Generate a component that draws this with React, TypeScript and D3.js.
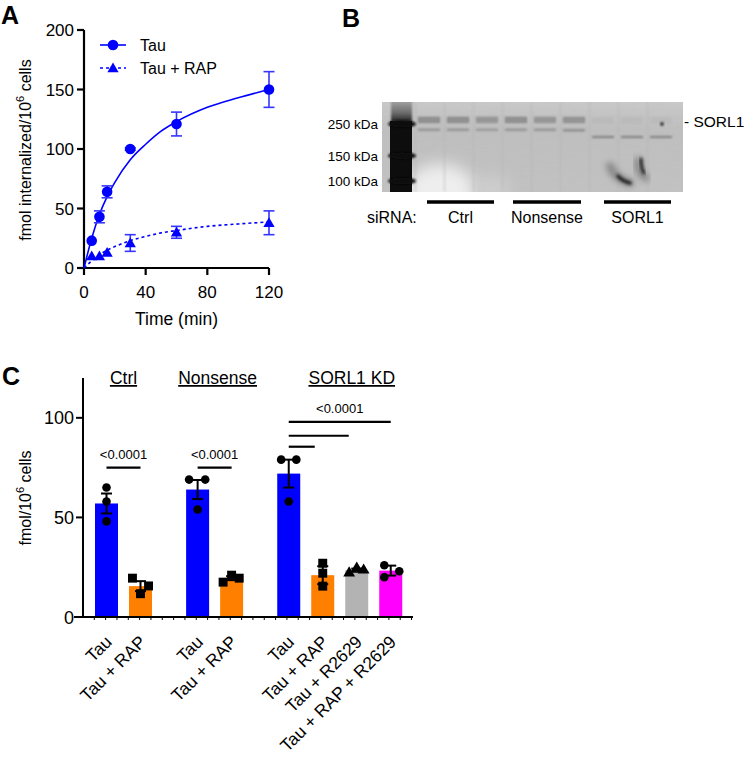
import React from 'react';
import * as d3 from 'd3';

// ---------- Panel A data ----------
const timePoints = [5, 10, 15, 30, 60, 120];
const tauMean = [23, 43, 64, 100, 121, 150];
const tauErr = [0, 5, 5, 1, 10, 15];
const rapMean = [10, 10, 13, 21, 30, 38];
const rapErr = [0, 0, 0, 7, 5, 10];
const fitTimes = [0, 5, 10, 15, 20, 30, 40, 50, 60, 80, 100, 120];
const tauFit = [0, 25, 45, 60, 72, 91, 104, 115, 123, 135, 143, 150];
const rapFit = [0, 6, 11, 15, 18, 23, 26.5, 29.5, 31.5, 35, 37, 38.7];
const xTicksA = [0, 40, 80, 120];
const yTicksA = [0, 50, 100, 150, 200];
const legendA = ['Tau', 'Tau + RAP'];

// ---------- Panel B data ----------
const laneGroups = ['Ctrl', 'Ctrl', 'Ctrl', 'Nonsense', 'Nonsense', 'Nonsense', 'SORL1', 'SORL1', 'SORL1'];
const sorl1Intensity = [0.6, 0.6, 0.5, 0.6, 0.5, 0.55, 0.07, 0.07, 0.06];
const lowerIntensity = [0.45, 0.45, 0.4, 0.45, 0.45, 0.5, 0.55, 0.55, 0.55];
const lowerKDa = [228, 228, 228, 228, 228, 226, 203, 203, 203];
const sorl1KDa = 267;
const ladderKDa = [250, 150, 100];
const blotGroups = ['Ctrl', 'Nonsense', 'SORL1'];

// ---------- Panel C data ----------
const groupNames = ['Ctrl', 'Nonsense', 'SORL1 KD'];
const barLabels = ['Tau', 'Tau + RAP', 'Tau', 'Tau + RAP', 'Tau', 'Tau + RAP', 'Tau + R2629', 'Tau + RAP + R2629'];
const barGroup = [0, 0, 1, 1, 2, 2, 2, 2];
const barMeans = [57, 15.5, 64, 19.5, 72, 21, 23.5, 23.3];
const barSem = [5, 2.5, 4.8, 1, 7, 4.5, 0.8, 2.5];
const barColors = ['#0000ff', '#ff8000', '#0000ff', '#ff8000', '#0000ff', '#ff8000', '#b3b3b3', '#ff00ff'];
const barShapes = ['circle', 'square', 'circle', 'square', 'circle', 'square', 'triangle', 'circle'];
const replicates = [
  [65, 58, 48],
  [19.5, 15.6, 11.7],
  [69, 69, 54],
  [17.5, 21, 19.5],
  [79, 79, 58],
  [27, 22, 15.5],
  [22.6, 25, 24],
  [26, 23, 20],
];
const dotSpread = [
  [0, 0, 0],
  [-0.35, 0.35, 0],
  [-0.37, 0.33, 0],
  [-0.37, 0, 0.33],
  [-0.33, 0.33, 0],
  [0, 0, 0],
  [-0.33, 0, 0.3],
  [-0.28, 0.37, -0.28],
];
const yTicksC = [0, 50, 100];
const sigLabel = '<0.0001';

const FONT = "'Liberation Sans', Arial, Helvetica, sans-serif";
const BLUE = '#0000ff';
const EBLUE = '#3535ff';

function PanelA() {
  const x = d3.scaleLinear().domain([0, 120]).range([84, 269]);
  const y = d3.scaleLinear().domain([0, 200]).range([268, 30]);
  const line = d3
    .line<number>()
    .x((_, i) => x(fitTimes[i]))
    .curve(d3.curveMonotoneX);
  const tauPath = line.y((v) => y(v))(tauFit) || '';
  const rapPath = line.y((v) => y(v))(rapFit) || '';
  const tri = d3.symbol().type(d3.symbolTriangle).size(55)() || '';
  return (
    <g fontFamily={FONT}>
      <text x={1} y={24} fontSize={25} fontWeight="bold">A</text>
      <line x1={x(0)} x2={x(120)} y1={y(0)} y2={y(0)} stroke="#000" strokeWidth={2.2} />
      <line x1={x(0)} x2={x(0)} y1={y(0) + 1} y2={y(200)} stroke="#000" strokeWidth={2.2} />
      {yTicksA.map((t) => (
        <g key={'ya' + t}>
          <line x1={x(0) - 7} x2={x(0)} y1={y(t)} y2={y(t)} stroke="#000" strokeWidth={2.2} />
          <text x={x(0) - 10} y={y(t) + 6} fontSize={17} textAnchor="end">{t}</text>
        </g>
      ))}
      {xTicksA.map((t) => (
        <g key={'xa' + t}>
          <line x1={x(t)} x2={x(t)} y1={y(0)} y2={y(0) + 7} stroke="#000" strokeWidth={2.2} />
          <text x={x(t)} y={298} fontSize={17} textAnchor="middle">{t}</text>
        </g>
      ))}
      <text x={(x(0) + x(120)) / 2} y={325} fontSize={17.5} textAnchor="middle">Time (min)</text>
      <text transform="translate(31,150) rotate(-90)" fontSize={16} textAnchor="middle">
        fmol internalized/10<tspan dy={-7} fontSize={11}>6</tspan><tspan dy={7}> cells</tspan>
      </text>
      <path d={tauPath} fill="none" stroke={BLUE} strokeWidth={1.6} />
      <path d={rapPath} fill="none" stroke={BLUE} strokeWidth={1.6} strokeDasharray="3,3" />
      {timePoints.map((t, i) => (
        <g key={'eb' + i} stroke={EBLUE} strokeWidth={1.6}>
          {tauErr[i] > 0 && (
            <>
              <line x1={x(t)} x2={x(t)} y1={y(tauMean[i] - tauErr[i])} y2={y(tauMean[i] + tauErr[i])} />
              <line x1={x(t) - 5.5} x2={x(t) + 5.5} y1={y(tauMean[i] - tauErr[i])} y2={y(tauMean[i] - tauErr[i])} />
              <line x1={x(t) - 5.5} x2={x(t) + 5.5} y1={y(tauMean[i] + tauErr[i])} y2={y(tauMean[i] + tauErr[i])} />
            </>
          )}
          {rapErr[i] > 0 && (
            <>
              <line x1={x(t)} x2={x(t)} y1={y(rapMean[i] - rapErr[i])} y2={y(rapMean[i] + rapErr[i])} />
              <line x1={x(t) - 5.5} x2={x(t) + 5.5} y1={y(rapMean[i] - rapErr[i])} y2={y(rapMean[i] - rapErr[i])} />
              <line x1={x(t) - 5.5} x2={x(t) + 5.5} y1={y(rapMean[i] + rapErr[i])} y2={y(rapMean[i] + rapErr[i])} />
            </>
          )}
        </g>
      ))}
      {timePoints.map((t, i) => (
        <circle key={'tc' + i} cx={x(t)} cy={y(tauMean[i])} r={5.3} fill={BLUE} />
      ))}
      {timePoints.map((t, i) => (
        <path key={'rt' + i} d={tri} transform={`translate(${x(t)},${y(rapMean[i]) + 1})`} fill={BLUE} />
      ))}
      <line x1={100} x2={126} y1={45} y2={45} stroke={BLUE} strokeWidth={1.6} />
      <circle cx={113} cy={45} r={5.3} fill={BLUE} />
      <text x={140} y={51} fontSize={16}>{legendA[0]}</text>
      <line x1={100} x2={126} y1={68} y2={68} stroke={BLUE} strokeWidth={1.6} strokeDasharray="3,3" />
      <path d={tri} transform="translate(113,69)" fill={BLUE} />
      <text x={140} y={74} fontSize={16}>{legendA[1]}</text>
    </g>
  );
}

function PanelB() {
  const laneX = d3.scaleLinear().domain([0, 1]).range([418, 447]);
  const laneW = 22;
  const ky = d3.scaleLog().domain([100, 250]).range([181, 124]);
  const left = 382, right = 683, top = 102, bottom = 192;
  const groupLines: Record<string, [number, number]> = {
    Ctrl: [427, 494],
    Nonsense: [513, 581],
    SORL1: [604, 671],
  };
  return (
    <g fontFamily={FONT}>
      <defs>
        <filter id="blur1" x="-20%" y="-100%" width="140%" height="300%">
          <feGaussianBlur stdDeviation="0.8" />
        </filter>
        <filter id="blur2" x="-50%" y="-50%" width="200%" height="200%">
          <feGaussianBlur stdDeviation="1.6" />
        </filter>
        <filter id="blur3" x="-50%" y="-50%" width="200%" height="200%">
          <feGaussianBlur stdDeviation="3" />
        </filter>
        <filter id="blur8" x="-50%" y="-50%" width="200%" height="200%">
          <feGaussianBlur stdDeviation="8" />
        </filter>
        <filter id="noise" x="0" y="0" width="100%" height="100%">
          <feTurbulence type="fractalNoise" baseFrequency="0.06 0.5" numOctaves={2} seed={3} />
          <feColorMatrix type="matrix" values="0 0 0 0 0.45  0 0 0 0 0.45  0 0 0 0 0.45  0.6 0 0 0 -0.2" />
        </filter>
        <linearGradient id="blotBg" x1="0" y1="0" x2="0" y2="1">
          <stop offset="0" stopColor="#c9c9c9" />
          <stop offset="0.3" stopColor="#bfbfbf" />
          <stop offset="1" stopColor="#c2c2c2" />
        </linearGradient>
        <linearGradient id="ladderTop" x1="0" y1="0" x2="0" y2="1">
          <stop offset="0" stopColor="#a8a8a8" />
          <stop offset="0.6" stopColor="#6a6a6a" />
          <stop offset="1" stopColor="#202020" />
        </linearGradient>
        <clipPath id="blotClip">
          <rect x={left} y={top} width={right - left} height={bottom - top} />
        </clipPath>
      </defs>
      <text x={342} y={27} fontSize={25} fontWeight="bold">B</text>
      <g clipPath="url(#blotClip)">
        <rect x={left} y={top} width={right - left} height={bottom - top} fill="url(#blotBg)" />
        <rect x={left} y={top} width={right - left} height={bottom - top} filter="url(#noise)" opacity={0.35} />
        <ellipse cx={440} cy={192} rx={36} ry={28} fill="#eeeeee" filter="url(#blur8)" />
        <ellipse cx={493} cy={190} rx={16} ry={14} fill="#cfcfcf" filter="url(#blur8)" />
        {laneGroups.map((_, i) => (
          <rect key={'ls' + i} x={laneX(i) - 4} y={top} width={3} height={bottom - top} fill="#b3b3b3" opacity={0.25} filter="url(#blur1)" />
        ))}
        <rect x={391} y={top - 2} width={21} height={22} fill="url(#ladderTop)" filter="url(#blur1)" />
        <rect x={390} y={top + 19} width={22} height={bottom - top} fill="#0d0d0d" />
        {ladderKDa.map((k) => (
          <ellipse key={'ld' + k} cx={402} cy={ky(k)} rx={14} ry={3.5} fill="#0a0a0a" filter="url(#blur1)" />
        ))}
        {laneGroups.map((_, i) => (
          <g key={'bd' + i} filter="url(#blur1)">
            <rect x={laneX(i)} y={ky(sorl1KDa) - 3} width={laneW} height={6} fill="#555" opacity={sorl1Intensity[i]} />
            <rect x={laneX(i) + 1} y={ky(sorl1KDa) - 1.5} width={laneW - 2} height={3} fill="#c4c4c4" opacity={sorl1Intensity[i] * 0.5} />
            <rect x={laneX(i)} y={ky(lowerKDa[i]) - 1} width={laneW} height={2} fill="#4a4a4a" opacity={lowerIntensity[i]} />
          </g>
        ))}
        <circle cx={662} cy={124} r={1.8} fill="#222" filter="url(#blur1)" />
        <path d="M610,166 Q614,178 630,183" stroke="#858585" strokeWidth={8} fill="none" filter="url(#blur3)" strokeLinecap="round" />
        <path d="M618,176 Q622,181 630,183" stroke="#1a1a1a" strokeWidth={3.5} fill="none" filter="url(#blur2)" strokeLinecap="round" />
        <path d="M638,160 Q636,172 646,178" stroke="#858585" strokeWidth={7} fill="none" filter="url(#blur3)" strokeLinecap="round" />
        <path d="M641,159 Q641,168 644,173" stroke="#1a1a1a" strokeWidth={3} fill="none" filter="url(#blur2)" strokeLinecap="round" />
      </g>
      {ladderKDa.map((k) => (
        <text key={'kt' + k} x={378} y={ky(k) + 5} fontSize={13.5} textAnchor="end">{k} kDa</text>
      ))}
      <text x={684} y={127} fontSize={15.5}>- SORL1</text>
      {blotGroups.map((g) => (
        <g key={'bg' + g}>
          <line x1={groupLines[g][0]} x2={groupLines[g][1]} y1={202} y2={202} stroke="#000" strokeWidth={3.5} />
          <text x={(groupLines[g][0] + groupLines[g][1]) / 2} y={223} fontSize={16} textAnchor="middle">{g}</text>
        </g>
      ))}
      <text x={367} y={223} fontSize={16}>siRNA:</text>
    </g>
  );
}

function PanelC() {
  const y = d3.scaleLinear().domain([0, 120]).range([617, 378]);
  const slot = d3.scaleLinear().domain([0, 1]).range([95, 129]);
  const bw = 23;
  const barX = barMeans.map((_, i) => slot(i + barGroup[i] * 0.68));
  const cx = (i: number) => barX[i] + bw / 2;
  const sq = d3.symbol().type(d3.symbolSquare).size(80)() || '';
  const tri = d3.symbol().type(d3.symbolTriangle).size(60)() || '';
  const axisLeft = 83, axisRight = 413;
  const minorTicks = d3.range(axisLeft + 11.3, axisRight, 11.33);
  const groupCenterOffset = [0, 3, 12];
  const groupCenters = groupNames.map((_, g) => {
    const idx = barGroup.map((gg, i) => (gg === g ? i : -1)).filter((i) => i >= 0);
    return (cx(idx[0]) + cx(idx[idx.length - 1])) / 2 + groupCenterOffset[g];
  });
  const sigPairs: [number, number, number, number][] = [
    [0, 1, 75, 0],
    [2, 3, 75, 0],
    [4, 7, 98, 0],
    [4, 6, 91, 8],
    [4, 5, 85.5, 8],
  ];
  return (
    <g fontFamily={FONT}>
      <text x={2} y={385} fontSize={25} fontWeight="bold">C</text>
      {barMeans.map((m, i) => (
        <rect key={'bar' + i} x={barX[i]} y={y(m)} width={bw} height={y(0) - y(m)} fill={barColors[i]} />
      ))}
      {barMeans.map((m, i) => (
        <g key={'ce' + i} stroke="#000" strokeWidth={2}>
          <line x1={cx(i)} x2={cx(i)} y1={y(m - barSem[i])} y2={y(m + barSem[i])} />
          <line x1={cx(i) - 5.5} x2={cx(i) + 5.5} y1={y(m + barSem[i])} y2={y(m + barSem[i])} />
          <line x1={cx(i) - 5.5} x2={cx(i) + 5.5} y1={y(m - barSem[i])} y2={y(m - barSem[i])} />
        </g>
      ))}
      {replicates.map((vals, i) =>
        vals.map((v, j) => {
          const px = cx(i) + dotSpread[i][j] * bw;
          const py = y(v);
          if (barShapes[i] === 'circle') return <circle key={`r${i}-${j}`} cx={px} cy={py} r={4.3} fill="#000" />;
          if (barShapes[i] === 'square') return <path key={`r${i}-${j}`} d={sq} transform={`translate(${px},${py})`} fill="#000" />;
          return <path key={`r${i}-${j}`} d={tri} transform={`translate(${px},${py + 1})`} fill="#000" />;
        })
      )}
      <line x1={axisLeft} x2={axisLeft} y1={y(0)} y2={y(120)} stroke="#000" strokeWidth={2} />
      <line x1={axisLeft - 9} x2={axisRight} y1={y(0)} y2={y(0)} stroke="#000" strokeWidth={2} />
      {minorTicks.map((t, i) => (
        <line key={'mt' + i} x1={t} x2={t} y1={y(0)} y2={y(0) + 3} stroke="#000" strokeWidth={1} />
      ))}
      {yTicksC.map((t) => (
        <g key={'yc' + t}>
          <line x1={axisLeft - 7} x2={axisLeft} y1={y(t)} y2={y(t)} stroke="#000" strokeWidth={2} />
          <text x={axisLeft - 9} y={y(t) + 6.5} fontSize={18} textAnchor="end">{t}</text>
        </g>
      ))}
      <text transform="translate(31,498) rotate(-90)" fontSize={16} textAnchor="middle">
        fmol/10<tspan dy={-7} fontSize={11}>6</tspan><tspan dy={7}> cells</tspan>
      </text>
      {groupNames.map((g, gi) => (
        <text key={'gn' + g} x={groupCenters[gi]} y={384} fontSize={17.5} textAnchor="middle" textDecoration="underline">{g}</text>
      ))}
      {sigPairs.map(([a, b, v, trim], k) => (
        <line key={'sg' + k} x1={cx(a)} x2={cx(b) - trim} y1={y(v)} y2={y(v)} stroke="#000" strokeWidth={2.2} />
      ))}
      <text x={(cx(0) + cx(1)) / 2} y={y(75) - 9} fontSize={13} textAnchor="middle">{sigLabel}</text>
      <text x={(cx(2) + cx(3)) / 2} y={y(75) - 9} fontSize={13} textAnchor="middle">{sigLabel}</text>
      <text x={(cx(4) + cx(7)) / 2} y={y(98) - 9} fontSize={13} textAnchor="middle">{sigLabel}</text>
      {barLabels.map((l, i) => (
        <text key={'xl' + i} transform={`translate(${cx(i) + 6.5},643) rotate(-45)`} fontSize={17.5} textAnchor="end">{l}</text>
      ))}
    </g>
  );
}

export default function App() {
  return (
    <svg width={748} height={762} style={{ position: 'absolute', left: 0, top: 0, background: '#fff' }}>
      <rect width={748} height={762} fill="#fff" />
      <PanelA />
      <PanelB />
      <PanelC />
    </svg>
  );
}
